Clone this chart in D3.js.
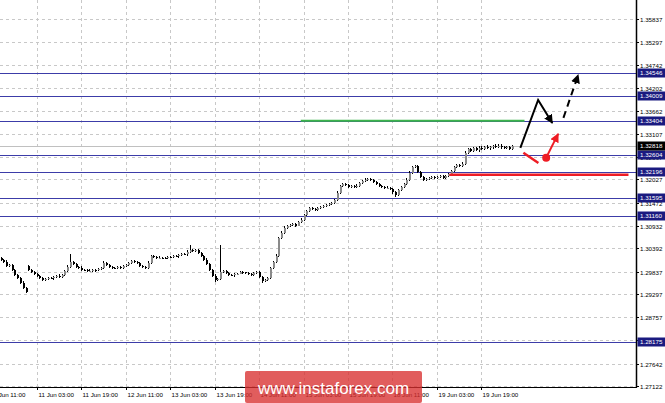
<!DOCTYPE html>
<html><head><meta charset="utf-8">
<script src="https://cdn.jsdelivr.net/npm/d3@7"></script>
<style>html,body{margin:0;padding:0;background:#fff;overflow:hidden}svg{display:block}</style>
</head><body><svg id="c" width="665" height="403"></svg>
<script>
// ---- data (hourly GBPUSD-like bars) ----
const closes = [
1.3012,1.3007,1.2997,1.3000,1.2988,1.2976,1.2969,1.2957,1.2945,1.2936,
1.2988,1.2983,1.2978,1.2974,1.2969,1.2964,1.2966,1.2969,1.2968,1.2971,
1.2974,1.2971,1.2976,1.2985,1.2995,1.3007,1.3002,1.2995,1.2993,1.2988,
1.2987,1.2985,1.2986,1.2988,1.2987,1.2990,1.2993,1.3004,1.3000,1.2995,
1.2993,1.2992,1.2995,1.2993,1.2997,1.3000,1.3004,1.3009,1.3007,1.3004,
1.2997,1.2995,1.2993,1.3004,1.3021,1.3019,1.3016,1.3017,1.3016,1.3015,
1.3019,1.3018,1.3021,1.3020,1.3023,1.3026,1.3025,1.3031,1.3035,1.3033,
1.3035,1.3028,1.3021,1.3012,1.3002,1.2988,1.2974,1.2964,1.2966,1.2983,
1.2985,1.2981,1.2976,1.2975,1.2978,1.2979,1.2983,1.2982,1.2981,1.2978,
1.2976,1.2980,1.2983,1.2971,1.2962,1.2964,1.2969,1.2993,1.3007,1.3021,
1.3064,1.3076,1.3088,1.3092,1.3095,1.3097,1.3093,1.3102,1.3107,1.3118,
1.3128,1.3135,1.3133,1.3130,1.3135,1.3137,1.3140,1.3142,1.3144,1.3147,
1.3154,1.3171,1.3187,1.3192,1.3190,1.3185,1.3187,1.3185,1.3188,1.3194,
1.3199,1.3202,1.3204,1.3201,1.3197,1.3192,1.3187,1.3185,1.3182,1.3183,
1.3180,1.3173,1.3166,1.3178,1.3185,1.3192,1.3202,1.3218,1.3232,1.3235,
1.3221,1.3209,1.3202,1.3204,1.3206,1.3209,1.3206,1.3208,1.3211,1.3206,
1.3211,1.3216,1.3223,1.3232,1.3237,1.3235,1.3240,1.3266,1.3275,1.3270,
1.3277,1.3273,1.3278,1.3275,1.3280,1.3277,1.3279,1.3282,1.3280,1.3283,
1.3279,1.3277,1.3280,1.3275,1.32818];
const openOverrides = {0: 1.3015, 10: 1.2997};
const wickUpPips = [
3,2,4,2,3,2,3,2,4,2, 3,2,2,3,2,3,2,2,3,2, 2,3,2,3,4,19,3,2,2,3, 2,2,3,2,2,3,2,4,2,3,
2,2,3,2,2,3,3,2,3,2, 2,3,2,4,3,2,2,3,2,2, 3,2,2,3,2,2,3,3,12,3, 2,3,2,2,3,2,2,3,2,64,
3,2,2,3,2,2,3,2,2,3, 2,3,2,2,3,2,3,2,3,4, 3,4,3,3,2,3,2,3,3,3, 3,2,3,2,3,2,3,2,3,2,
3,4,3,3,3,2,3,2,3,3, 2,3,3,2,3,2,2,3,2,3, 2,3,2,3,2,3,3,4,3,3, 3,2,3,2,3,2,3,2,3,2,
3,2,3,3,2,3,3,4,3,3, 3,3,4,3,3,4,3,3,4,3, 3,3,3,2,3];
const wickDnPips = [
2,3,2,3,2,3,2,3,2,4, 2,3,2,2,3,2,3,2,2,3, 3,2,2,3,2,2,3,2,3,2, 2,3,2,2,3,2,2,3,2,2,
3,2,2,3,2,3,2,2,3,2, 3,2,3,2,2,3,2,2,3,2, 2,3,2,2,3,2,2,3,2,2, 3,2,3,2,3,3,4,5,3,2,
2,3,2,2,3,2,2,3,2,3, 2,2,3,3,5,3,2,3,2,3, 3,2,3,2,3,2,3,2,3,2, 3,2,2,3,2,3,2,3,2,3,
2,3,2,3,2,3,2,3,2,3, 2,2,3,2,3,2,3,2,3,2, 3,4,4,3,2,3,2,3,2,3, 2,3,2,3,2,3,2,3,2,3,
2,3,2,3,2,3,2,3,4,3, 3,3,4,3,3,3,4,3,3,3, 3,3,3,3,2];

const priceTicks = [1.35837,1.35297,1.34742,1.34202,1.33662,1.33107,1.32567,1.32027,1.31472,1.30932,1.30392,1.29837,1.29297,1.28757,1.28217,1.27642,1.27122];
const levelPrices = [1.34546,1.34009,1.33404,1.32604,1.32196,1.31595,1.31160,1.28175];
const currentPrice = 1.32818;
const timeTickBars = [-3,13,29,45,61,77,93,109,125,141,157,173];
const timeTickLabels = ["8 Jun 11:00","11 Jun 03:00","11 Jun 19:00","12 Jun 11:00","13 Jun 03:00","13 Jun 19:00","14 Jun 11:00","15 Jun 03:00","15 Jun 19:00","18 Jun 11:00","19 Jun 03:00","19 Jun 19:00"];
// forecast drawings (bar index, price)
const greenLine = [[108,1.33420],[188.5,1.33420]];
const redLine = [[161.5,1.32140],[225.9,1.32140]];
const blackPath = [[187,1.32775],[193.4,1.33915],[198.5,1.33369]];
const blackDashed = [[202.5,1.33488],[207.8,1.34509]];
const redSegment = [[188.1,1.32663],[193.5,1.32419]];
const redArrow = [[196.3,1.32545],[200.6,1.33108]];

// ---- layout ----
const W = 665, H = 403, plotR = 636, plotB = 387;
const svg = d3.select("#c");
const x = d3.scaleLinear().domain([0, 184]).range([0.5, 512]);
const y = d3.scaleLinear().domain([1.27122, 1.35837]).range([386, 19]);
const font = "Liberation Sans, Arial, sans-serif";
const crisp = v => Math.round(v) + 0.5;

const defs = svg.append("defs");
function marker(id, color) {
  defs.append("marker").attr("id", id).attr("viewBox", "0 0 10 10")
    .attr("refX", 9).attr("refY", 5).attr("markerWidth", 4.5).attr("markerHeight", 4.5)
    .attr("markerUnits", "strokeWidth").attr("orient", "auto")
    .append("path").attr("d", "M0,0 L10,5 L0,10 z").attr("fill", color);
}
marker("ab", "#000"); marker("ar", "#ee1c24");

// grid
const grid = svg.append("g").attr("stroke", "#c8c8c8").attr("stroke-dasharray", "3,3").attr("stroke-width", 1);
priceTicks.forEach(p => grid.append("line").attr("x1", 0).attr("x2", plotR).attr("y1", crisp(y(p))).attr("y2", crisp(y(p))));
timeTickBars.forEach(b => grid.append("line").attr("x1", crisp(x(b))).attr("x2", crisp(x(b))).attr("y1", 0).attr("y2", plotB));

// level lines
svg.append("g").selectAll("line").data(levelPrices).join("line")
  .attr("x1", 0).attr("x2", plotR).attr("y1", d => crisp(y(d))).attr("y2", d => crisp(y(d)))
  .attr("stroke", "#3c3ca8").attr("stroke-width", 1);
svg.append("line").attr("x1", 0).attr("x2", plotR).attr("y1", crisp(y(currentPrice))).attr("y2", crisp(y(currentPrice)))
  .attr("stroke", "#c0c0c0");

// candles
const bars = closes.map((c, i) => {
  const o = openOverrides[i] !== undefined ? openOverrides[i] : closes[i - 1];
  return {i, o, c, h: Math.max(o, c) + wickUpPips[i] * 0.0001, l: Math.min(o, c) - wickDnPips[i] * 0.0001};
});
const cg = svg.append("g").attr("shape-rendering", "crispEdges");
cg.selectAll("line").data(bars).join("line")
  .attr("x1", d => Math.round(x(d.i)) + 0.5).attr("x2", d => Math.round(x(d.i)) + 0.5)
  .attr("y1", d => y(d.h)).attr("y2", d => y(d.l)).attr("stroke", "#000");
cg.selectAll("rect").data(bars).join("rect")
  .attr("x", d => Math.round(x(d.i)))
  .attr("width", 2)
  .attr("y", d => y(Math.max(d.o, d.c)))
  .attr("height", d => Math.max(1, Math.abs(y(d.o) - y(d.c))))
  .attr("fill", d => d.c >= d.o ? "#8a8a8a" : "#000");

// forecast lines
const ln = d3.line().x(d => x(d[0])).y(d => y(d[1]));
svg.append("path").attr("d", ln(greenLine)).attr("stroke", "#3cb44b").attr("stroke-width", 2).attr("fill", "none");
svg.append("path").attr("d", ln(redLine)).attr("stroke", "#ee1c24").attr("stroke-width", 2.5).attr("fill", "none");
svg.append("path").attr("d", ln(blackPath)).attr("stroke", "#000").attr("stroke-width", 2).attr("fill", "none")
  .attr("stroke-linejoin", "miter").attr("marker-end", "url(#ab)");
svg.append("path").attr("d", ln(blackDashed)).attr("stroke", "#000").attr("stroke-width", 2).attr("fill", "none")
  .attr("stroke-dasharray", "7,5").attr("marker-end", "url(#ab)");
svg.append("path").attr("d", ln(redSegment)).attr("stroke", "#ee1c24").attr("stroke-width", 2.5).attr("fill", "none");
svg.append("path").attr("d", ln(redArrow)).attr("stroke", "#ee1c24").attr("stroke-width", 2).attr("fill", "none")
  .attr("marker-end", "url(#ar)");
svg.append("circle").attr("cx", x(redArrow[0][0])).attr("cy", y(redArrow[0][1])).attr("r", 4).attr("fill", "#ee1c24");

// axes
svg.append("line").attr("x1", plotR + 0.5).attr("x2", plotR + 0.5).attr("y1", 0).attr("y2", plotB + 0.5).attr("stroke", "#000").attr("stroke-width", 1.5);
svg.append("line").attr("x1", 0).attr("x2", plotR + 1).attr("y1", plotB + 0.5).attr("y2", plotB + 0.5).attr("stroke", "#000");

const ya = svg.append("g");
priceTicks.forEach(p => {
  const yy = crisp(y(p));
  ya.append("line").attr("x1", plotR).attr("x2", plotR + 3).attr("y1", yy).attr("y2", yy).attr("stroke", "#000");
  ya.append("text").attr("x", plotR + 4).attr("y", yy).attr("dy", "0.35em")
    .attr("font-family", font).attr("font-size", 6.2).attr("fill", "#000").text(p.toFixed(5));
});
const xa = svg.append("g");
timeTickBars.forEach((b, k) => {
  const xx = crisp(x(b));
  xa.append("line").attr("x1", xx).attr("x2", xx).attr("y1", plotB).attr("y2", plotB + 3).attr("stroke", "#000");
  xa.append("text").attr("x", xx + 1).attr("y", plotB + 10).attr("font-family", font).attr("font-size", 6.2)
    .attr("fill", "#000").text(timeTickLabels[k]);
});

// level tags
function tag(p, fill) {
  const yy = Math.round(y(p));
  svg.append("rect").attr("x", plotR + 1.5).attr("y", yy - 4.5).attr("width", W - plotR - 1.5).attr("height", 9).attr("fill", fill);
  svg.append("text").attr("x", plotR + 4).attr("y", yy).attr("dy", "0.35em")
    .attr("font-family", font).attr("font-size", 6.2).attr("fill", "#fff").text(p.toFixed(5));
}
levelPrices.forEach(p => tag(p, "#1a1a80"));
tag(currentPrice, "#000");

// watermark
svg.append("rect").attr("x", 245).attr("y", 371).attr("width", 177).attr("height", 32).attr("rx", 2)
  .attr("fill", "#d83030").attr("opacity", 0.78);
svg.append("text").attr("x", 333.5).attr("y", 394).attr("text-anchor", "middle")
  .attr("font-family", font).attr("font-size", 17).attr("fill", "#fff").text("www.instaforex.com");
</script></body></html>
